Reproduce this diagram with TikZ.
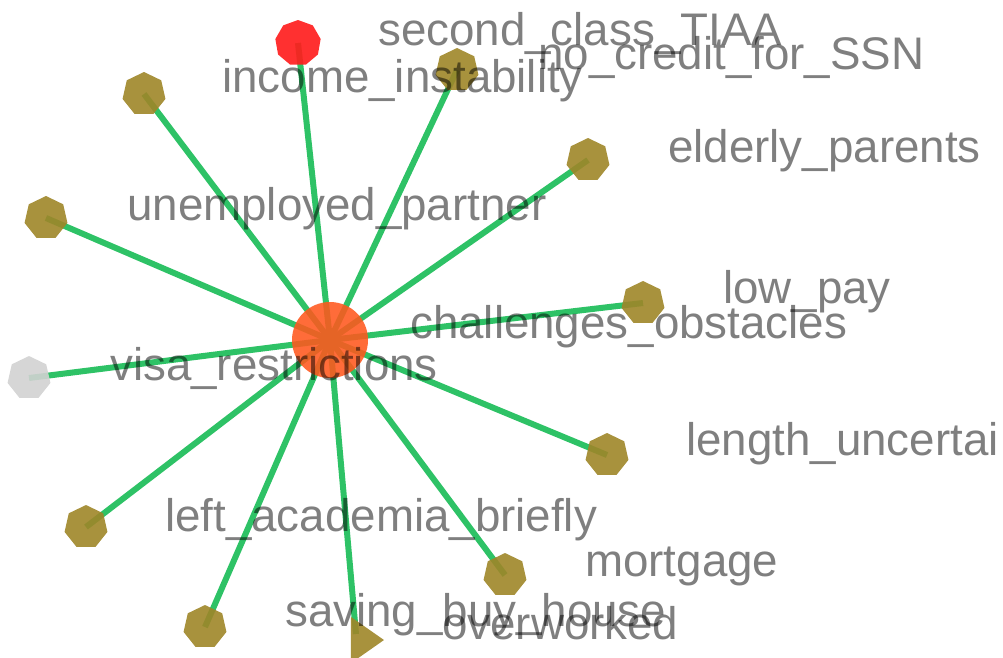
\documentclass[tikz,border=0pt]{standalone}
\usepackage{fontspec}
\setmainfont{Liberation Sans}
\usetikzlibrary{shapes.geometric}
\definecolor{edgegreen}{RGB}{46,194,102}
\definecolor{olive}{RGB}{158,134,40}
\definecolor{hubcol}{RGB}{255,88,30}
\definecolor{redcol}{RGB}{255,30,30}
\definecolor{greycol}{RGB}{210,210,210}
\tikzset{
  spoke/.style={draw=edgegreen,line width=6pt},
  leaf/.style={regular polygon,regular polygon sides=7,minimum size=44pt,inner sep=0pt,fill=olive,fill opacity=0.9,draw=none},
  hub/.style={circle,minimum size=76pt,inner sep=0pt,fill=hubcol,fill opacity=0.88,draw=none},
  lbl/.style={anchor=base west,inner sep=0pt,text=black,text opacity=0.5,font=\fontsize{45.7}{50}\selectfont}
}
\begin{document}
\begin{tikzpicture}[x=1pt,y=-1pt]
\useasboundingbox (0,0) rectangle (1003,657);
% coordinates of nodes
\coordinate (c) at (330,340);
\coordinate (pR) at (298,43);
\coordinate (p1) at (457,70);
\coordinate (p2) at (144,94);
\coordinate (p3) at (588,160);
\coordinate (p4) at (46,218);
\coordinate (p5) at (643,303);
\coordinate (pG) at (29,378);
\coordinate (p6) at (607,455);
\coordinate (p7) at (86,527);
\coordinate (p8) at (505,575);
\coordinate (p9) at (205,627);
\coordinate (pT) at (356,634);
% edges
\foreach \p in {pR,p1,p2,p3,p4,p5,pG,p6,p7,p8,p9,pT}
  \draw[spoke] (c) -- (\p);
% nodes
\node[leaf] (n1) at (p1) {};
\node[leaf] (n2) at (p2) {};
\node[leaf] (n3) at (p3) {};
\node[leaf] (n4) at (p4) {};
\node[leaf] (n5) at (p5) {};
\node[leaf] (n6) at (p6) {};
\node[leaf] (n7) at (p7) {};
\node[leaf] (n8) at (p8) {};
\node[leaf] (n9) at (p9) {};
\node[leaf,fill=greycol] (nG) at (pG) {};
\node[regular polygon,regular polygon sides=9,minimum size=46pt,inner sep=0pt,fill=redcol,fill opacity=0.92] (nR) at (pR) {};
\node[isosceles triangle,isosceles triangle apex angle=70,minimum height=33pt,inner sep=0pt,fill=olive,fill opacity=0.9,anchor=center] (nT) at (363,640) {};
\node[hub] (hub) at (c) {};
% labels
\node[lbl] (l1) at (378,45) {second\_class\_TIAA};
\node[lbl] (l2) at (538,69) {no\_credit\_for\_SSN};
\node[lbl] (l3) at (222,92) {income\_instability};
\node[lbl] (l4) at (668,162) {elderly\_parents};
\node[lbl] (l5) at (127,220) {unemployed\_partner};
\node[lbl] (l6) at (723,303) {low\_pay};
\node[lbl] (l7) at (410,338) {challenges\_obstacles};
\node[lbl] (l8) at (110,380) {visa\_restrictions};
\node[lbl] (l9) at (686,455) {length\_uncertai};
\node[lbl] (l10) at (165,531) {left\_academia\_briefly};
\node[lbl] (l11) at (585,576) {mortgage};
\node[lbl] (l12) at (285,626) {saving\_buy\_house};
\node[lbl] (l13) at (442,639) {overworked};
\end{tikzpicture}
\end{document}
